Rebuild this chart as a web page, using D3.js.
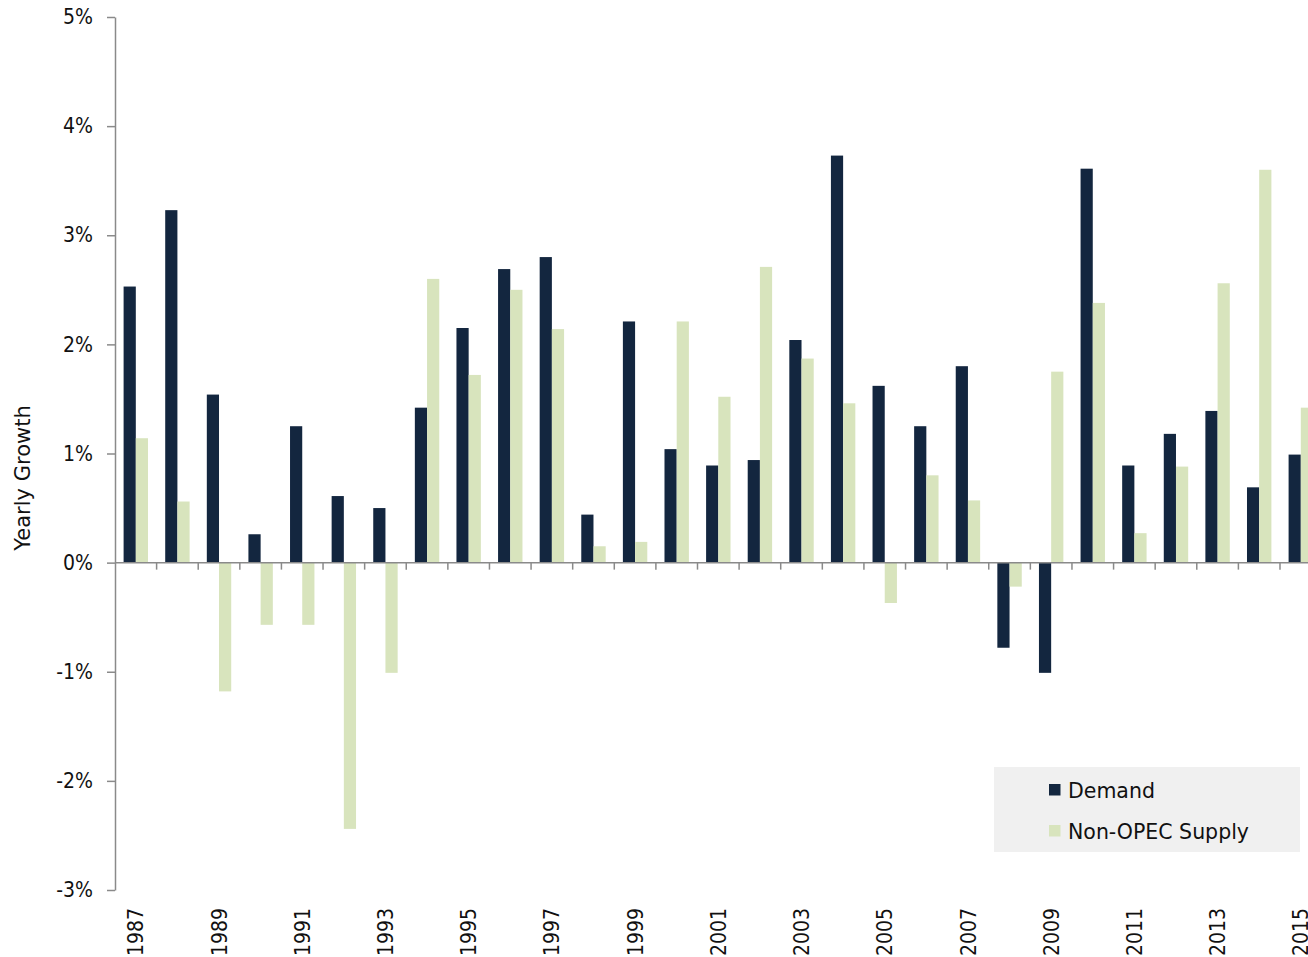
<!DOCTYPE html>
<html>
  <body style="margin:0;background:#fff">
    <style>
      svg { display: block; }
      text { font-family: "DejaVu Sans", sans-serif; fill: #111; }
      .tick text, .yearLabel { font-family: "DejaVu Sans Condensed", "DejaVu Sans", sans-serif; }
    </style>
    <script src="https://d3js.org/d3.v7.min.js"></script>
    <script type="text/javascript">
      const width = 1308;
      const height = 957;

      const years = ['1987','1988','1989','1990','1991','1992','1993','1994','1995','1996',
        '1997','1998','1999','2000','2001','2002','2003','2004','2005','2006',
        '2007','2008','2009','2010','2011','2012','2013','2014','2015'];
      const demand = [2.53, 3.23, 1.54, 0.26, 1.25, 0.61, 0.50, 1.42, 2.15, 2.69,
        2.80, 0.44, 2.21, 1.04, 0.89, 0.94, 2.04, 3.73, 1.62, 1.25,
        1.80, -0.78, -1.01, 3.61, 0.89, 1.18, 1.39, 0.69, 0.99];
      const supply = [1.14, 0.56, -1.18, -0.57, -0.57, -2.44, -1.01, 2.60, 1.72, 2.50,
        2.14, 0.15, 0.19, 2.21, 1.52, 2.71, 1.87, 1.46, -0.37, 0.80,
        0.57, -0.22, 1.75, 2.38, 0.27, 0.88, 2.56, 3.60, 1.42];
      const yTicks = [-3, -2, -1, 0, 1, 2, 3, 4, 5];
      const xLabels = ['1987','1989','1991','1993','1995','1997','1999','2001','2003',
        '2005','2007','2009','2011','2013','2015'];
      const seriesNames = ['Demand', 'Non-OPEC Supply'];
      const colors = ['#13263f', '#d8e4bd'];

      const rows = years.map((yr, i) => ({ year: yr, values: [demand[i], supply[i]] }));

      const svg = d3.select('body')
        .append('svg')
        .attr('width', width)
        .attr('height', height);

      const x0 = d3.scaleBand()
        .domain(years)
        .range([115, 115 + 29 * 41.607])
        .paddingInner(0)
        .paddingOuter(0);

      const x1 = d3.scaleBand()
        .domain([0, 1])
        .range([0, x0.bandwidth()])
        .paddingInner(0)
        .paddingOuter(0.705);

      const y = d3.scaleLinear()
        .domain([-3, 5])
        .range([890, 17]);

      // bars
      svg.append('g')
        .selectAll('g')
        .data(rows)
        .enter()
        .append('g')
        .attr('transform', (d) => `translate(${x0(d.year)},0)`)
        .selectAll('rect')
        .data((d) => d.values.map((v, k) => ({ k: k, v: v })))
        .enter()
        .append('rect')
        .attr('x', (d) => x1(d.k))
        .attr('width', x1.bandwidth())
        .attr('y', (d) => y(Math.max(0, d.v)))
        .attr('height', (d) => Math.abs(y(d.v) - y(0)))
        .attr('fill', (d) => colors[d.k]);

      // y axis
      const yAxis = svg.append('g')
        .attr('transform', 'translate(115,0)')
        .call(d3.axisLeft(y)
          .tickValues(yTicks)
          .tickSize(8)
          .tickSizeOuter(0)
          .tickPadding(14)
          .tickFormat((d) => d + '%'));
      yAxis.selectAll('path, line').attr('stroke', '#8a8a8a').attr('stroke-width', 1.5);
      yAxis.selectAll('text').attr('font-size', 21).attr('fill', '#111');

      // x axis along zero line
      const xAxis = svg.append('g');
      xAxis.append('line')
        .attr('x1', x0.range()[0])
        .attr('x2', x0.range()[1])
        .attr('y1', y(0))
        .attr('y2', y(0))
        .attr('stroke', '#8a8a8a')
        .attr('stroke-width', 1.5);
      xAxis.selectAll('.xtick')
        .data(years.slice(1))
        .enter()
        .append('line')
        .attr('class', 'xtick')
        .attr('x1', (d) => x0(d))
        .attr('x2', (d) => x0(d))
        .attr('y1', y(0))
        .attr('y2', y(0) + 7)
        .attr('stroke', '#8a8a8a')
        .attr('stroke-width', 1.5);

      // year labels (the last one runs off the right edge, as in the source)
      svg.selectAll('.yearLabel')
        .data(xLabels)
        .enter()
        .append('text')
        .attr('class', 'yearLabel')
        .attr('transform', (d) => `translate(${x0(d) + x0.bandwidth() / 2},908) rotate(-90)`)
        .attr('text-anchor', 'end')
        .attr('dy', '0.36em')
        .attr('font-size', 21)
        .text((d) => d);

      // y axis title
      svg.append('text')
        .attr('transform', 'translate(22,478) rotate(-90)')
        .attr('text-anchor', 'middle')
        .attr('dy', '0.36em')
        .attr('font-size', 21)
        .text('Yearly Growth');

      // legend
      const legend = svg.append('g');
      legend.append('rect')
        .attr('x', 994)
        .attr('y', 767)
        .attr('width', 306)
        .attr('height', 85)
        .attr('fill', '#f0f0f0');
      const items = legend.selectAll('.item')
        .data(seriesNames)
        .enter()
        .append('g')
        .attr('class', 'item')
        .attr('transform', (d, i) => `translate(1049,${784 + i * 41})`);
      items.append('rect')
        .attr('width', 11.5)
        .attr('height', 11.5)
        .attr('fill', (d, i) => colors[i]);
      items.append('text')
        .attr('x', 19)
        .attr('y', 13.5)
        .attr('font-size', 20.5)
        .text((d) => d);
    </script>
  </body>
</html>
